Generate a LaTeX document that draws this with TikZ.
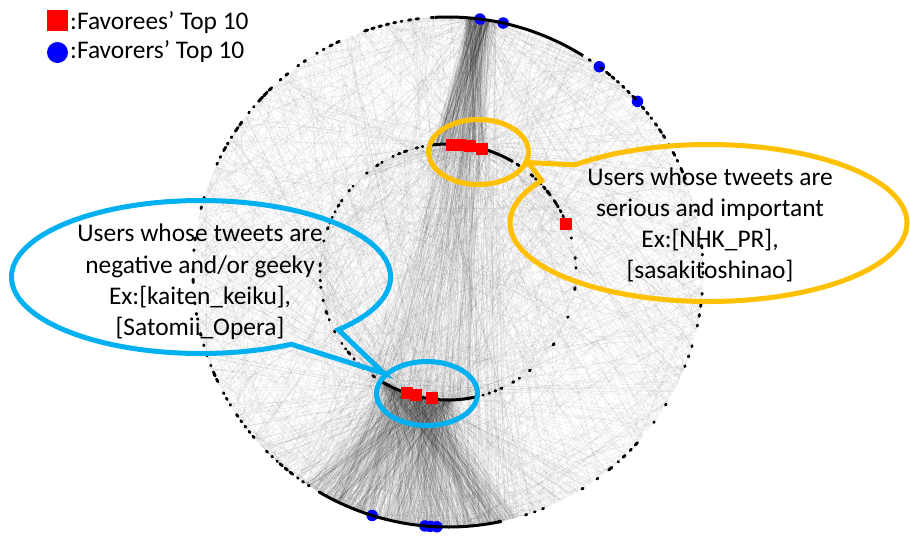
\documentclass[tikz,border=0pt]{standalone}
\usepackage{fontspec}
\setmainfont{Carlito}
\usetikzlibrary{shapes.geometric,shapes.callouts}

\definecolor{calloutgold}{HTML}{FFC000}
\definecolor{calloutblue}{HTML}{00B0F0}

\tikzset{
  faint/.style={draw=black, draw opacity=0.06, line width=0.4pt},
  thin link/.style={draw=black, draw opacity=0.07, line width=0.45pt},
  heavy link/.style={draw=black, draw opacity=0.10, line width=0.5pt},
  fan link/.style={draw=black, draw opacity=0.08, line width=0.5pt},
  userdash/.style={draw=black, line width=2.9pt, line cap=round},
  solidarc/.style={draw=black, line width=3.0pt},
  favoree/.style={rectangle, fill=red, minimum size=12pt, inner sep=0pt},
  favorer/.style={circle, fill=blue, minimum size=11.5pt, inner sep=0pt},
  groupring/.style={ellipse, draw, line width=5pt, inner sep=0pt},
  bubble/.style={ellipse callout, draw, line width=5pt, inner sep=0pt},
  bubbletext/.style={align=center, font=\fontsize{25.4}{31.2}\selectfont, inner sep=0pt},
  legendtext/.style={font=\fontsize{25.4}{30}\selectfont, inner sep=0pt, anchor=base west},
}

% #1 links from radius #2 (angles #3 .. #3+#4) to radius #5 (angles #6 .. #6+#7), style #8
\newcommand{\linkset}[8]{%
  \foreach \k in {1,...,#1}{%
    \pgfmathsetmacro{\ea}{#3+#4*rnd}%
    \pgfmathsetmacro{\eb}{#6+#7*rnd}%
    \draw[#8] (\ea:#2) -- (\eb:#5);%
  }%
}

% users on a ring: radius #1, angles #2 .. #3 in steps #4; with probability #5
% a short run of users (up to #6 degrees long) sits at each step
\newcommand{\dashrun}[6]{%
  \pgfmathtruncatemacro{\dn}{(#3-#2)/#4}%
  \foreach \i in {0,...,\dn}{%
    \pgfmathsetmacro{\dang}{#2+\i*#4}%
    \pgfmathsetmacro{\dkeep}{rnd}%
    \pgfmathsetmacro{\dlen}{0.15+#6*rnd*rnd}%
    \ifdim\dkeep pt<#5pt
      \draw[userdash] (\dang:#1) arc[start angle=\dang, delta angle=\dlen, radius=#1];
    \fi
  }%
}
% densely packed users drawn as one solid arc
\newcommand{\solidrun}[3]{%
  \draw[solidarc] (#2:#1) arc[start angle=#2, end angle=#3, radius=#1];%
}

\begin{document}
\begin{tikzpicture}[x=1pt,y=-1pt]
\useasboundingbox (0,0) rectangle (910,536);
\pgfmathsetseed{2718}

\begin{scope}[shift={(448,272)}]
  % background mesh of favourite links
  \linkset{450}{255}{-180}{360}{255}{-180}{360}{faint}
  \linkset{400}{255}{-180}{360}{128}{-180}{360}{faint}
  \linkset{120}{128}{-180}{360}{128}{-180}{360}{faint}
  % bundle between the top of both rings
  \linkset{170}{255}{-85.5}{5}{128}{-97}{24}{heavy link}
  % long links crossing the centre
  \linkset{80}{255}{-86}{7}{128}{80}{45}{thin link}
  \linkset{40}{255}{-86}{7}{255}{80}{30}{thin link}
  \linkset{80}{128}{-98}{28}{255}{70}{55}{thin link}
  % fan below the lower favorees
  \linkset{650}{128}{88}{34}{255}{74}{50}{fan link}
  \linkset{160}{128}{85}{40}{255}{55}{95}{thin link}
  % spread out from the dense arcs
  \linkset{90}{255}{-86}{7}{255}{-180}{360}{thin link}
  \linkset{110}{128}{-98}{28}{255}{-180}{360}{thin link}
  \linkset{150}{128}{85}{40}{255}{-180}{360}{thin link}
  \linkset{100}{255}{78}{44}{255}{-180}{360}{faint}

  % favorers' top 10 on the outer ring
  \foreach \a [count=\n] in {-82.8,-77.5,-53.6,-42,107.3,95.2,94,92.5}
    \node[favorer] (favorer\n) at (\a:255) {};

  % users on the outer ring
  \solidrun{255}{-93}{-58}
  \dashrun{255}{-58}{-30}{1.6}{0.75}{1.4}
  \dashrun{255}{-30}{0}{2.0}{0.6}{1.0}
  \dashrun{255}{0}{40}{2.4}{0.45}{0.6}
  \dashrun{255}{40}{78}{2.0}{0.6}{1.0}
  \solidrun{255}{78}{120}
  \dashrun{255}{120}{156}{1.5}{0.8}{1.3}
  \dashrun{255}{156}{205}{2.4}{0.45}{0.8}
  \dashrun{255}{205}{267}{1.7}{0.7}{1.3}
  % users on the inner ring
  \solidrun{128}{-98}{-60}
  \dashrun{128}{-60}{-20}{2.6}{0.75}{2.2}
  \dashrun{128}{-20}{50}{4.5}{0.45}{1.0}
  \dashrun{128}{50}{77}{3.0}{0.7}{2.0}
  \solidrun{128}{77}{122}
  \dashrun{128}{122}{180}{3.0}{0.6}{2.0}
  \dashrun{128}{180}{262}{2.8}{0.65}{2.2}

  % favorees' top 10 on the inner ring
  \foreach \a [count=\n] in {-88.2,-84.6,-79.9,-74.4,-21.9,108.6,104.4,97.4}
    \node[favoree] (favoree\n) at (\a:127.5) {};
\end{scope}

% legend
\node[favoree, minimum size=21pt] (legendsquare) at (57.5,20.5) {};
\node[favorer, minimum size=21pt] (legenddisc) at (57.5,52.5) {};
\node[legendtext] (legendsquaretext) at (70,29.3) {:Favorees’ Top 10};
\node[legendtext] (legenddisctext) at (70,58.3) {:Favorers’ Top 10};

% highlighted groups
\node[groupring, draw=calloutgold, minimum width=100, minimum height=65] (topgroup) at (478.5,152) {};
\node[groupring, draw=calloutblue, minimum width=101, minimum height=64] (bottomgroup) at (427,393.5) {};

% callouts
\node[bubble, draw=calloutgold, minimum width=397, minimum height=157,
      callout absolute pointer={(topgroup.-12)}] (seriousbubble) at (708.5,223) {};
\node[bubble, draw=calloutblue, minimum width=379, minimum height=153,
      callout pointer arc=18,
      callout absolute pointer={(bottomgroup.155)}] (negativebubble) at (201,277) {};

\node[bubbletext, anchor=base] (serioustext) at (710,278.7)
  {Users whose tweets are\\serious and important\\Ex:[NHK\_PR],\\{}[sasakitoshinao]};
\node[bubbletext, anchor=base] (negativetext) at (200,335.5)
  {Users whose tweets are\\negative and/or geeky\\Ex:[kaiten\_keiku],\\{}[Satomii\_Opera]};
\end{tikzpicture}
\end{document}
